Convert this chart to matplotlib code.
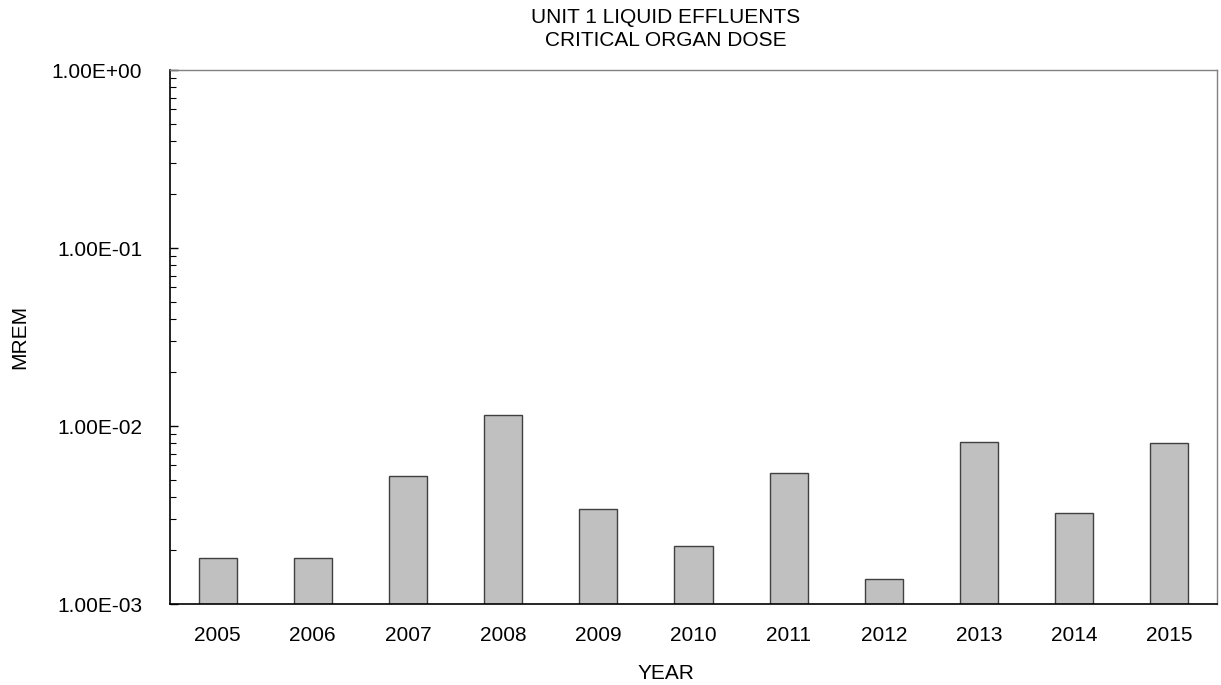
import matplotlib.pyplot as plt
import matplotlib.ticker as ticker
import numpy as np

plt.rcParams['font.family'] = ['Liberation Sans', 'DejaVu Sans']

years = ['2005', '2006', '2007', '2008', '2009', '2010',
         '2011', '2012', '2013', '2014', '2015']
dose = [1.81e-3, 1.81e-3, 5.22e-3, 1.16e-2, 3.40e-3, 2.11e-3,
        5.42e-3, 1.38e-3, 8.10e-3, 3.25e-3, 8.07e-3]

fig = plt.figure(figsize=(12.21, 6.85), dpi=100)
ax = fig.add_axes([170 / 1221, 81 / 685, 1047 / 1221, 534 / 685])

x = np.arange(len(years))
ax.bar(x, dose, width=0.4, color='#c0c0c0', edgecolor='#404040',
       linewidth=1.0)

ax.set_yscale('log')
ax.set_ylim(1e-3, 1e0)
ax.set_xlim(-0.5, len(years) - 0.5)
ax.set_xticks(x)
ax.set_xticklabels(years)
ax.yaxis.set_major_formatter(ticker.FuncFormatter(lambda v, p: f'{v:.2E}'))
ax.yaxis.set_minor_locator(ticker.LogLocator(base=10, subs=np.arange(2, 10)))
ax.yaxis.set_minor_formatter(ticker.NullFormatter())

ax.tick_params(axis='y', which='major', direction='in', length=6, width=1,
               labelsize=15, pad=20)
ax.tick_params(axis='y', which='minor', direction='in', length=4, width=0.8)
ax.tick_params(axis='x', which='both', length=0, labelsize=15, pad=16)

for s in ['left', 'bottom']:
    ax.spines[s].set_color('black')
    ax.spines[s].set_linewidth(1.2)
for s in ['top', 'right']:
    ax.spines[s].set_color('#808080')
    ax.spines[s].set_linewidth(1.0)

fig.text(666 / 1221, 1 - 29 / 685, 'UNIT 1 LIQUID EFFLUENTS\nCRITICAL ORGAN DOSE',
         fontsize=15, ha='center', va='center', linespacing=1.25)
ax.set_ylabel('MREM', fontsize=15)
ax.yaxis.set_label_coords((29 - 170) / 1047, 0.5)
ax.set_xlabel('YEAR', fontsize=15)
ax.xaxis.set_label_coords((666 - 170) / 1047, (604 - 664) / 534)

plt.savefig('out.png', dpi=100)
